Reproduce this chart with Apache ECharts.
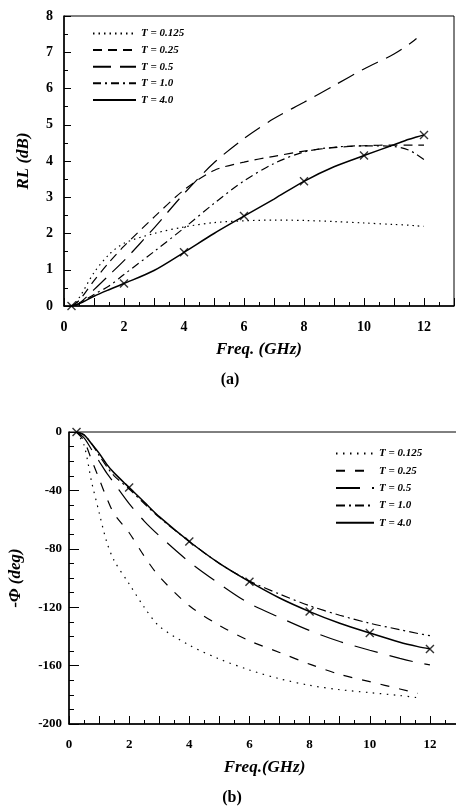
<!DOCTYPE html>
<html>
<head>
<meta charset="utf-8">
<script src="https://cdn.jsdelivr.net/npm/echarts@6/dist/echarts.min.js"></script>
<style>
  html, body { margin: 0; padding: 0; background: #fff; }
  #chart-a { position: absolute; left: 0; top: 0; width: 456px; height: 400px; }
  #chart-b { position: absolute; left: 0; top: 400px; width: 456px; height: 408px; }
</style>
</head>
<body>
<div id="chart-a"></div>
<div id="chart-b"></div>
<script>
var seriesNames = ['T = 0.125', 'T = 0.25', 'T = 0.5', 'T = 1.0', 'T = 4.0'];
// points of the T = 4.0 curve that carry a cross
var markerFreq = [0.25, 2, 4, 6, 8, 10, 12];

// (a) RL (dB) vs Freq. (GHz)
var freqA  = [0.25, 0.5, 1, 1.5, 2, 3, 4, 5, 6, 7, 8, 9, 10, 11, 11.5, 11.75, 12];
var rlT0125 = [0, 0.22, 0.92, 1.42, 1.73, 2.0, 2.18, 2.3, 2.35, 2.37, 2.36, 2.33, 2.29, 2.25, 2.23, 2.21, 2.2];
var rlT025  = [0, 0.15, 0.7, 1.2, 1.65, 2.45, 3.2, 3.74, 3.97, 4.13, 4.27, 4.37, 4.42, 4.44, 4.44, 4.44, 4.44];
var rlT05   = [0, 0.07, 0.45, 0.85, 1.25, 2.15, 3.1, 3.95, 4.62, 5.17, 5.62, 6.08, 6.54, 6.95, 7.22, 7.38, null];
var rlT1    = [0, 0.07, 0.32, 0.55, 0.87, 1.5, 2.15, 2.83, 3.45, 3.93, 4.25, 4.38, 4.42, 4.4, 4.3, 4.18, 4.04];
var rlT4    = [0, 0.06, 0.27, 0.45, 0.62, 0.98, 1.48, 2.0, 2.48, 2.95, 3.44, 3.84, 4.15, 4.45, 4.6, 4.66, 4.72];

// (b) -Phi (deg) vs Freq. (GHz)
var freqB  = [0.25, 0.5, 0.75, 1, 1.25, 1.5, 2, 2.5, 3, 4, 5, 6, 7, 8, 9, 10, 11, 11.6, 12];
var phT0125 = [0, -9, -34, -55, -75, -88, -104, -120, -133, -146, -155.5, -163, -169, -173.5, -176.5, -178.5, -180.5, -182, null];
var phT025  = [0, -6, -19, -32, -45, -56, -69, -85, -99, -119, -132.5, -143, -151, -159, -166, -171, -176, -179, null];
var phT05   = [0, -4, -12, -20, -28, -35, -49, -61, -71, -89, -104, -117.5, -127, -136, -143.5, -149.5, -155, -158, -159.5];
var phT1    = [0, -2, -8, -16, -23.5, -30, -39, -49, -58.5, -75, -90, -102, -111, -119, -125.5, -131, -135.4, -138, -139.5];
var phT4    = [0, -2, -8, -14.5, -22, -28, -38, -48, -58, -75, -90, -102.5, -113.7, -123, -131, -137.7, -144, -147, -148.6];

var serif = 'Liberation Serif';

function makeOption(cfg) {
  var series = cfg.values.map(function (vals, i) {
    return {
      name: seriesNames[i],
      type: 'line',
      data: cfg.freq.map(function (f, k) { return [f, vals[k]]; }),
      symbol: 'none',
      smooth: 0.3,
      itemStyle: { color: 'transparent' },
      lineStyle: { color: '#000', width: i === 4 ? 1.5 : 1.2, type: cfg.dash[i] }
    };
  });
  var solid = cfg.values[4];
  series.push({
    type: 'scatter',
    data: cfg.freq.map(function (f, k) { return [f, solid[k]]; })
      .filter(function (p) { return markerFreq.indexOf(p[0]) >= 0; }),
    symbol: 'path://M0,0L10,10M10,0L0,10',
    symbolSize: 8,
    itemStyle: { color: 'none', borderColor: '#000', borderWidth: 1.4 },
    z: 5
  });

  var tickLabel = { color: '#000', fontFamily: serif, fontWeight: 'bold', fontSize: cfg.labelSize };
  var nameText = { color: '#000', fontFamily: serif, fontWeight: 'bold', fontStyle: 'italic', fontSize: 17 };

  return {
    animation: false,
    backgroundColor: '#fff',
    grid: {
      left: cfg.grid[0], top: cfg.grid[1], right: cfg.grid[2], bottom: cfg.grid[3],
      show: true, borderColor: '#000', borderWidth: 1, outerBoundsMode: 'none'
    },
    legend: {
      orient: 'vertical', left: cfg.legend[0], top: cfg.legend[1],
      itemWidth: cfg.legend[2], itemHeight: 12, itemGap: cfg.legend[3],
      selectedMode: false,
      itemStyle: { opacity: 0 },
      textStyle: { color: '#000', fontFamily: serif, fontStyle: 'italic', fontWeight: 'bold', fontSize: 11 },
      data: seriesNames
    },
    xAxis: {
      type: 'value', min: 0, max: 13, interval: 1,
      name: cfg.xName, nameLocation: 'middle', nameGap: 35, nameTextStyle: nameText,
      axisLine: { onZero: false, lineStyle: { color: '#000', width: 1.5 } },
      axisTick: { inside: true, length: 8, lineStyle: { color: '#000', width: 1 } },
      minorTick: { show: true, splitNumber: 2, length: 4, lineStyle: { color: '#000', width: 1 } },
      splitLine: { show: false },
      axisLabel: Object.assign({
        margin: 14, hideOverlap: false,
        formatter: function (v) { return v % 2 === 0 ? String(v) : ''; }
      }, tickLabel)
    },
    yAxis: {
      type: 'value', min: cfg.yRange[0], max: cfg.yRange[1], interval: cfg.yRange[2],
      name: cfg.yName, nameLocation: 'middle', nameGap: cfg.yNameGap, nameTextStyle: nameText,
      axisLine: { onZero: false, lineStyle: { color: '#000', width: 1.5 } },
      axisTick: { inside: true, length: cfg.yTick[0], lineStyle: { color: '#000', width: 1 } },
      minorTick: { show: true, splitNumber: cfg.yTick[2], length: cfg.yTick[1], lineStyle: { color: '#000', width: 1 } },
      splitLine: { show: false },
      axisLabel: Object.assign({ margin: cfg.yLabelMargin, hideOverlap: false }, tickLabel)
    },
    graphic: [{
      type: 'text', x: cfg.caption[1], y: cfg.caption[2],
      style: { text: cfg.caption[0], align: 'center', verticalAlign: 'middle',
               font: 'bold 16px "Liberation Serif"', fill: '#000' }
    }],
    series: series
  };
}

var chartA = echarts.init(document.getElementById('chart-a'));
chartA.setOption(makeOption({
  freq: freqA,
  values: [rlT0125, rlT025, rlT05, rlT1, rlT4],
  dash: [[1.5, 4], [9, 6], [18, 9], [8, 4, 2, 4], 'solid'],
  grid: [64, 16, 2, 94],
  legend: [87, 23, 43, 5.6],
  xName: 'Freq. (GHz)',
  yName: 'RL (dB)',
  yNameGap: 32,
  yRange: [0, 8, 1],
  yTick: [7, 4, 2],
  yLabelMargin: 11,
  labelSize: 14,
  caption: ['(a)', 230, 380]
}));

var chartB = echarts.init(document.getElementById('chart-b'));
chartB.setOption(makeOption({
  freq: freqB,
  values: [phT0125, phT025, phT05, phT1, phT4],
  dash: [[1.5, 5.5], [9, 10], [24, 12], [9, 4, 2, 4], 'solid'],
  grid: [69, 32, -4, 84],
  legend: [330, 43, 38, 6.3],
  xName: 'Freq.(GHz)',
  yName: '-\u03A6 (deg)',
  yNameGap: 45,
  yRange: [-200, 0, 40],
  yTick: [10, 5, 4],
  yLabelMargin: 7,
  labelSize: 13,
  caption: ['(b)', 232, 398]
}));

window.addEventListener('resize', function () {
  chartA.resize();
  chartB.resize();
});
</script>
</body>
</html>
